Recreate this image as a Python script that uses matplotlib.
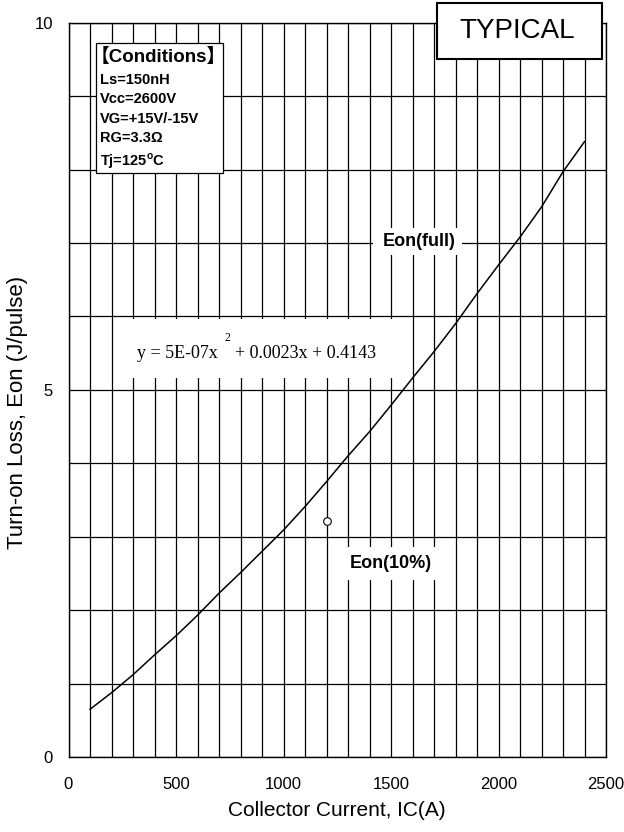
import matplotlib
matplotlib.use('Agg')
import matplotlib.pyplot as plt
from matplotlib.patches import Rectangle
import numpy as np

# ---- data ----
current = [100, 200, 300, 400, 500, 600, 700, 800, 900, 1000, 1100, 1200,
           1300, 1400, 1500, 1600, 1700, 1800, 1900, 2000, 2100, 2200, 2300, 2400]
eon_full = [0.65, 0.875, 1.12, 1.39, 1.65, 1.93, 2.23, 2.51, 2.80, 3.09, 3.41, 3.75,
            4.10, 4.43, 4.79, 5.16, 5.52, 5.90, 6.31, 6.70, 7.08, 7.49, 7.97, 8.38]
point_current = [1200]
point_eon = [3.22]
x_ticks = [0, 500, 1000, 1500, 2000, 2500]
y_ticks = [0, 5, 10]
y_tick_labels = ['0', '5', '10']
conditions = ['Ls=150nH', 'Vcc=2600V', 'VG=+15V/-15V', 'RG=3.3\u03a9']

plt.rcParams['font.family'] = ['Liberation Sans', 'DejaVu Sans']
plt.rcParams['mathtext.fontset'] = 'custom'
plt.rcParams['mathtext.rm'] = 'Liberation Serif'
plt.rcParams['mathtext.bf'] = 'Liberation Sans:bold'

W, H = 624, 832
fig = plt.figure(figsize=(W / 100, H / 100), dpi=100)
L, R, T, B = 68.5, 606, 22.7, 757
ax = fig.add_axes([L / W, (H - B) / H, (R - L) / W, (B - T) / H])


def P(xp, yp):
    """pixel (from top-left) -> axes fraction"""
    return ((xp - L) / (R - L), (B - yp) / (B - T))


ax.set_xlim(0, 2500)
ax.set_ylim(0, 10)
ax.set_xticks(x_ticks)
ax.set_xticks(np.arange(0, 2501, 100), minor=True)
ax.set_yticks(y_ticks)
ax.set_yticklabels(y_tick_labels)
ax.set_yticks(np.arange(0, 11, 1), minor=True)
ax.tick_params(which='both', length=0)
ax.tick_params(axis='x', pad=14.7, labelsize=12)
ax.tick_params(axis='y', pad=11.2, labelsize=12)
ax.grid(which='both', color='black', lw=0.9)
ax.set_axisbelow(True)
for s in ax.spines.values():
    s.set_linewidth(1.0)

ax.plot(current, eon_full, color='black', lw=1.1, zorder=2)
ax.plot(point_current, point_eon, 'o', mfc='white', mec='black', ms=5.5, mew=0.8, zorder=3)

ax.set_xlabel('Collector Current, IC(A)', fontsize=15)
ax.xaxis.set_label_coords(*P(337, 810))
ax.xaxis.label.set_va('center')
ax.set_ylabel('Turn-on Loss, Eon (J/pulse)', fontsize=16)
ax.yaxis.set_label_coords(*P(18, 412))
ax.yaxis.label.set_va('center')

# equation box
x0, y0 = P(115, 378)
x1, y1 = P(400, 319)
ax.add_patch(Rectangle((x0, y0), x1 - x0, y1 - y0, transform=ax.transAxes,
                       facecolor='white', edgecolor='none', zorder=1.5))
ax.text(*P(137, 354), 'y = 5E-07x', transform=ax.transAxes, fontsize=13,
        family='Liberation Serif', va='center', ha='left', zorder=4)
ax.text(*P(224, 338), '2', transform=ax.transAxes, fontsize=8.5,
        family='Liberation Serif', va='center', ha='left', zorder=4)
ax.text(*P(235, 354), '+ 0.0023x + 0.4143', transform=ax.transAxes, fontsize=13,
        family='Liberation Serif', va='center', ha='left', zorder=4)

# Eon(full) label
x0, y0 = P(373, 255)
x1, y1 = P(462, 228)
ax.add_patch(Rectangle((x0, y0), x1 - x0, y1 - y0, transform=ax.transAxes,
                       facecolor='white', edgecolor='none', zorder=1.5))
ax.text(*P(419, 241), 'Eon(full)', transform=ax.transAxes, fontsize=13,
        fontweight='bold', va='center', ha='center', zorder=4)

# Eon(10%) label
x0, y0 = P(335, 580)
x1, y1 = P(445, 547)
ax.add_patch(Rectangle((x0, y0), x1 - x0, y1 - y0, transform=ax.transAxes,
                       facecolor='white', edgecolor='none', zorder=1.5))
ax.text(*P(391, 563), 'Eon(10%)', transform=ax.transAxes, fontsize=13,
        fontweight='bold', va='center', ha='center', zorder=4)

# Conditions box
x0, y0 = P(95.7, 173.3)
x1, y1 = P(223.3, 43.3)
ax.add_patch(Rectangle((x0, y0), x1 - x0, y1 - y0, transform=ax.transAxes,
                       facecolor='white', edgecolor='black', lw=0.9, zorder=3))
ax.text(*P(91, 57), '\u3010Conditions\u3011', transform=ax.transAxes, fontsize=13.5,
        fontweight='bold', family=['Liberation Sans', 'Noto Sans CJK JP'],
        va='center', ha='left', zorder=4)
for yp, s in zip([80, 99, 119, 138], conditions):
    ax.text(*P(100, yp), s, transform=ax.transAxes, fontsize=10.5,
            fontweight='bold', va='center', ha='left', zorder=4)
ax.text(*P(100, 161), r'Tj=125$^{\mathbf{o}}$C', transform=ax.transAxes, fontsize=10.5,
        fontweight='bold', va='center', ha='left', zorder=4)

# TYPICAL box
x0, y0 = P(437, 59)
x1, y1 = P(602, 3)
ax.add_patch(Rectangle((x0, y0), x1 - x0, y1 - y0, transform=ax.transAxes,
                       facecolor='white', edgecolor='black', lw=1.5, zorder=5,
                       clip_on=False))
ax.text(*P(517, 31), 'TYPICAL', transform=ax.transAxes, fontsize=20,
        va='center', ha='center', zorder=6, clip_on=False)

fig.savefig('out.png', dpi=100)
